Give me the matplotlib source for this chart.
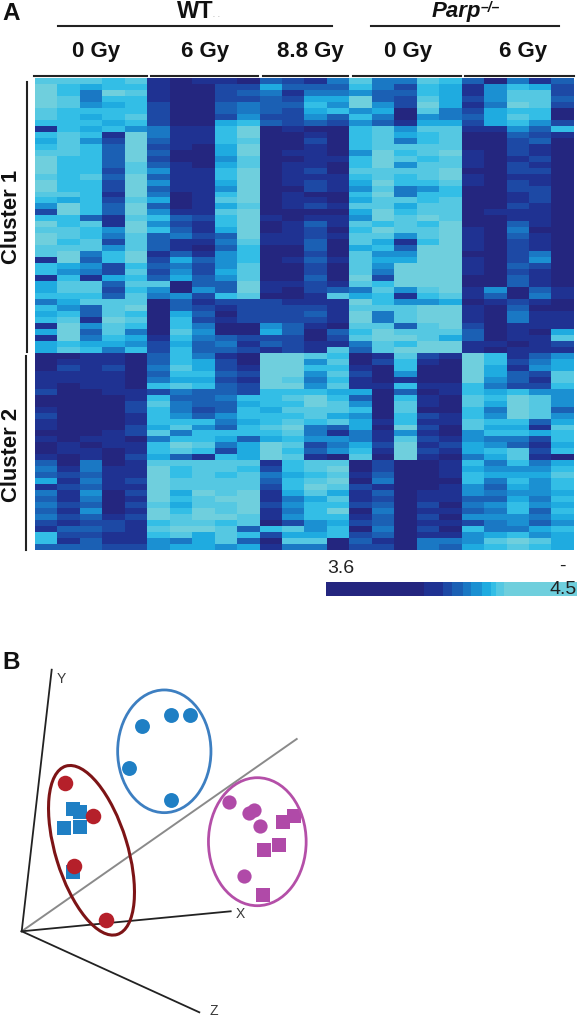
import numpy as np
from matplotlib import pyplot as plt
from matplotlib.colors import ListedColormap, BoundaryNorm
from matplotlib.patches import Ellipse

plt.rcParams['font.family'] = ['Liberation Sans', 'DejaVu Sans']

# expression level per gene row (digit = colour step), columns follow the groups
heat_rows = [
 '88878 10110 32 14 84487 30413', '97677 10022 63 33 74276 15762',
 '97498 10023 41 44 53376 15882', '98477 10022 32 66 93286 25883',
 '98567 20034 33 75 95296 14982', '87777 20034 32 67 56084 26770',
 '87678 20025 22 53 74054 36870', '77767 20067 32 32 53166 26752',
 '17675 41179 01 00 78588 11537', '78719 41179 00 10 78678 00321',
 '68529 31178 00 20 78478 00230', '78739 21069 00 10 78888 00210',
 '88739 30069 01 10 59789 10210', '97739 20058 00 11 79878 10120',
 '97738 31068 01 10 79588 10210', '97728 51179 01 20 88889 00220',
 '87839 31179 01 11 78789 10110', '97729 51169 01 21 69778 10210',
 '97729 31159 00 21 58457 00220', '88719 40179 01 00 79477 00120',
 '76728 60189 01 10 68878 00120', '59739 30168 01 21 88688 00210',
 '29739 51189 00 00 69788 01110', '77318 73279 10 11 59898 00110',
 '97819 52179 01 31 87879 00310', '88759 73169 01 20 79889 10400',
 '98748 34239 11 21 88589 10310', '97828 31148 11 30 86179 10210',
 '88858 31037 00 30 67399 10210', '89479 13157 00 20 85599 00240',
 '19379 26357 01 31 86699 10250', '76527 34258 00 20 85999 10320',
 '75428 25268 00 20 84999 10210', '17167 36358 00 30 92999 00310',
 '68838 80339 11 21 87999 00310', '68827 50539 10 23 48589 15031',
 '77738 45278 00 18 67178 13041', '46888 03122 21 11 97556 01210',
 '75389 03212 22 21 88899 10300', '67387 06302 22 31 94899 10411',
 '78198 07212 22 21 94899 10411', '19587 07400 53 10 88389 20111',
 '69384 08500 63 03 79888 30106', '19476 17432 22 02 89986 30118',
 '67665 26341 32 11 48799 11012', '68747 27332 12 18 38999 10111',
 '00110 37410 99 87 01821 97135', '01110 37620 99 58 02710 97246',
 '02120 48621 99 77 10700 96156', '11110 37732 99 58 20500 96328',
 '11110 46621 98 47 10100 95318', '10110 78732 99 58 11711 74227',
 '20011 24332 77 76 60301 76755', '00001 73347 78 97 30710 87985',
 '00002 84336 77 98 50810 86985', '10002 74237 68 88 70800 74983',
 '20001 75357 77 86 50721 75985', '10001 77746 78 78 61711 87736',
 '10002 68537 89 43 60920 86618', '00012 84777 78 41 41510 57767',
 '10110 47763 67 55 41821 54427', '01011 79846 98 24 62912 65316',
 '01101 78726 97 35 71921 67827', '10102 63176 98 10 80910 46810',
 '30401 88888 17 88 02001 74746', '41411 97887 27 89 02001 65557',
 '32311 97878 46 78 13001 76668', '61412 98888 37 89 04000 74757',
 '12311 98888 27 98 21001 53657', '41502 96989 16 86 13011 54556',
 '31401 97899 14 68 12011 33647', '42302 86889 25 77 23020 45756',
 '31501 97989 14 79 04011 34737', '42312 98998 15 77 13020 55546',
 '21221 78878 02 56 23011 24535', '13321 89983 78 57 04020 74467',
 '72211 78687 26 67 23011 56756', '71311 54683 08 80 31044 58986',
 '33322 56656 14 40 22043 67876',
]
level_edges = [3.6, 3.95, 4.02, 4.05, 4.09, 4.12, 4.16, 4.19, 4.21, 4.24, 4.5]
level_colors = ['#24267f', '#1f3292', '#1d49a5', '#1b60b4', '#1a78c4',
                '#1b90d2', '#1fabe0', '#33bee6', '#55c8e2', '#6fcfdd']

genotypes = ['WT', 'Parp']
doses = ['0 Gy', '6 Gy', '8.8 Gy', '0 Gy', '6 Gy']
clusters = ['Cluster 1', 'Cluster 2']

# PCA panel
blue_circles_x = [141.7, 171, 189.7, 129.3, 170.7]
blue_circles_y = [727, 716, 716, 769, 801]
red_circles_x = [65, 92.7, 74, 105.7]
red_circles_y = [783.7, 816.7, 867, 920.7]
blue_squares_x = [73.3, 80, 64.3, 79.7, 73.3]
blue_squares_y = [810.3, 813, 828.7, 827.7, 872.7]
pink_circles_x = [229.3, 249.3, 254, 260, 244]
pink_circles_y = [803, 813.7, 811, 827.3, 877]
pink_squares_x = [283, 293.7, 278.7, 264, 263]
pink_squares_y = [823, 816.7, 845.7, 851, 895.7]

W, H = 578, 1020
fig = plt.figure(figsize=(W / 100, H / 100), dpi=100)

def box(x0, y0, x1, y1):
    return [x0 / W, 1 - y1 / H, (x1 - x0) / W, (y1 - y0) / H]

# page axes in pixels, everything that is not the heatmap goes here
page = fig.add_axes([0, 0, 1, 1])
page.set_xlim(0, W)
page.set_ylim(H, 0)
page.axis('off')
page.set_zorder(5)

digits = np.array([[int(c) for c in r.replace(' ', '')] for r in heat_rows])
edges = np.array(level_edges)
centers = (edges[:-1] + edges[1:]) / 2
cmap = ListedColormap(level_colors)
norm = BoundaryNorm(level_edges, cmap.N)

ax = fig.add_axes(box(35, 79, 574, 551))
im = ax.imshow(centers[digits], aspect='auto', cmap=cmap, norm=norm, interpolation='nearest')
ax.axis('off')

cax = fig.add_axes(box(326, 583, 577, 597))
cb = fig.colorbar(im, cax=cax, orientation='horizontal', spacing='proportional')
cb.set_ticks([])
cb.minorticks_off()
cb.outline.set_visible(False)

bold = dict(fontweight='bold', ha='center', va='center', color='#111111')
page.text(11, 13, 'A', fontsize=17.5, **bold)
page.text(11, 663, 'B', fontsize=17.5, **bold)
page.text(195, 12, genotypes[0], fontsize=17, **bold)
page.text(216, 17, '-  -', fontsize=4, ha='center', va='center', color='#999999')
page.text(456, 12, genotypes[1], fontsize=16, style='italic', **bold)
page.text(490, 8, '–/–', fontsize=10, style='italic', **bold)
page.plot([58, 332], [27, 27], color='#222222', lw=1.5)
page.plot([371, 559], [27, 27], color='#222222', lw=1.5)

dose_x = [96, 205, 310, 408, 523]
dose_lines = [(34, 147), (151, 258), (263, 348), (353, 461), (465, 574)]
for d, x, (a, b) in zip(doses, dose_x, dose_lines):
    page.text(x, 52, d, fontsize=16, **bold)
    page.plot([a, b], [77, 77], color='#222222', lw=1.5)

page.text(12, 217, clusters[0], fontsize=15.8, rotation=90, **bold)
page.text(12, 455, clusters[1], fontsize=15.8, rotation=90, **bold)
page.plot([27, 27], [83, 353], color='#222222', lw=1.5)
page.plot([26, 26], [357, 551], color='#222222', lw=1.5)

page.text(327, 569, '3.6', fontsize=14, ha='left', va='center', color='#222222')
page.text(562, 566, '-', fontsize=14, ha='center', va='center', color='#222222')
page.text(577, 590, '4.5', fontsize=14, ha='right', va='center', color='#222222')

# panel B
origin = (21.7, 932.3)
page.plot([origin[0], 296.7], [origin[1], 740], color='#8a8a8a', lw=1.4)
page.plot([origin[0], 51.7], [origin[1], 670.7], color='#222222', lw=1.3)
page.plot([origin[0], 230.7], [origin[1], 912.3], color='#222222', lw=1.3)
page.plot([origin[0], 199.3], [origin[1], 1013.3], color='#222222', lw=1.3)
axis_label = dict(fontsize=10, ha='center', va='center', color='#3a3a3a')
page.text(61.7, 679.3, 'Y', **axis_label)
page.text(240, 914, 'X', **axis_label)
page.text(214, 1011, 'Z', **axis_label)

blue, red, pink = '#1f7fc4', '#b5202a', '#b04aa8'
page.scatter(blue_squares_x, blue_squares_y, s=100, marker='s', c=blue, linewidths=0, zorder=3)
page.scatter(blue_circles_x, blue_circles_y, s=115, c=blue, linewidths=0, zorder=3)
page.scatter(red_circles_x, red_circles_y, s=125, c=red, linewidths=0, zorder=4)
page.scatter(pink_circles_x, pink_circles_y, s=105, c=pink, linewidths=0, zorder=3)
page.scatter(pink_squares_x, pink_squares_y, s=90, marker='s', c=pink, linewidths=0, zorder=3)

page.add_patch(Ellipse((164.3, 752.3), 93.3, 122.7, fill=False, ec='#3d7fc1', lw=2, zorder=5))
page.add_patch(Ellipse((257.3, 842.7), 97.7, 128, fill=False, ec='#b44fa8', lw=2, zorder=5))
page.add_patch(Ellipse((91.5, 851.3), 72, 176, angle=-17, fill=False, ec='#7d1416', lw=2.2, zorder=5))

fig.savefig('out.png', dpi=100)
